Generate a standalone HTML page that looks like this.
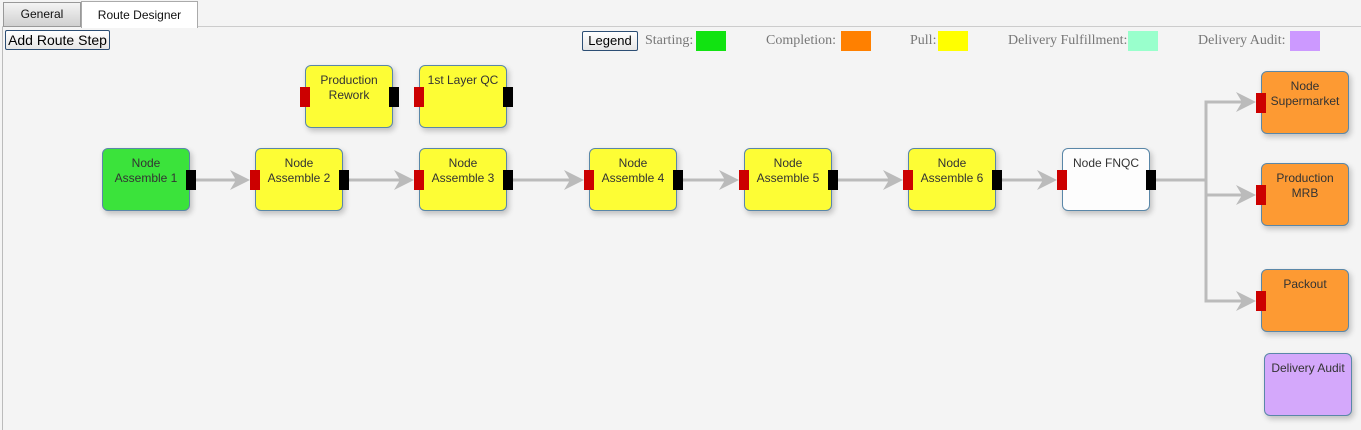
<!DOCTYPE html>
<html><head><style>
body{margin:0;width:1361px;height:430px;background:#f4f4f4;position:relative;overflow:hidden;font-family:"Liberation Sans",Arial,sans-serif}
.n{position:absolute;width:86px;height:61px;border:1px solid #5a87a8;border-radius:6px;box-shadow:2px 3px 6px rgba(0,0,0,.22);font-size:12px;color:#333;text-align:center;line-height:15px;padding-top:7px;box-sizing:content-box;height:54px}
.y{background:#fdfd35}.o{background:#fd9a33}
.r,.b{position:absolute;width:10px;height:20px;top:21px}
.r{background:#cc0000;left:-6px}.b{background:#000;left:83px}
.lg{position:absolute;top:31px;font-family:"Liberation Serif",serif;font-size:14px;color:#777;line-height:20px}
.sw{position:absolute;top:31px;width:30px;height:20px}
</style></head><body>
<div style="position:absolute;left:2px;top:26px;width:1px;height:404px;background:#bbb"></div>
<div style="position:absolute;left:197px;top:26px;width:1164px;height:1px;background:#ccc"></div>
<div style="position:absolute;left:2px;top:26px;width:196px;height:1px;background:#ccc"></div>
<div style="position:absolute;left:3px;top:2px;width:76px;height:23px;border:1px solid #999;background:linear-gradient(#f4f4f4,#d0d0d0);font-size:12px;text-align:center;line-height:23px;color:#111">General</div>
<div style="position:absolute;left:81px;top:1px;width:115px;height:26px;border:1px solid #aaa;border-bottom:none;background:#fff;font-size:12px;text-align:center;line-height:26px;color:#111">Route Designer</div>
<div style="position:absolute;left:5px;top:30px;width:103px;height:18px;border:1px solid #2c4e74;border-radius:2px;background:linear-gradient(#fff,#e6e6e6);font-size:14px;line-height:18px;text-align:center;color:#000">Add Route Step</div>
<div style="position:absolute;left:582px;top:31px;width:54px;height:18px;border:1px solid #2c4e74;border-radius:2px;background:linear-gradient(#fff,#e6e6e6);font-size:13px;line-height:18px;text-align:center;color:#000">Legend</div>
<span class="lg" style="left:645px">Starting:</span><div class="sw" style="left:696px;background:#11e311"></div>
<span class="lg" style="left:766px">Completion:</span><div class="sw" style="left:841px;background:#ff8000"></div>
<span class="lg" style="left:910px">Pull:</span><div class="sw" style="left:938px;background:#ffff00"></div>
<span class="lg" style="left:1008px">Delivery Fulfillment:</span><div class="sw" style="left:1128px;background:#99ffcc"></div>
<span class="lg" style="left:1198px">Delivery Audit:</span><div class="sw" style="left:1290px;background:#cc99ff"></div>

<svg style="position:absolute;left:0;top:0" width="1361" height="430">
<g stroke="#bbb" stroke-width="3" fill="none">
<line x1="196" y1="180" x2="245" y2="180"/>
<line x1="349" y1="180" x2="409" y2="180"/>
<line x1="513" y1="180" x2="579" y2="180"/>
<line x1="683" y1="180" x2="734" y2="180"/>
<line x1="838" y1="180" x2="898" y2="180"/>
<line x1="1002" y1="180" x2="1052" y2="180"/>
<line x1="1156" y1="180" x2="1206" y2="180"/>
<polyline points="1251,102 1206,102 1206,301 1251,301"/>
<line x1="1206" y1="195" x2="1251" y2="195"/>
</g>
<g fill="#bbb">
<path d="M250,180 l-20,-10 l6,10 l-6,10z"/>
<path d="M414,180 l-20,-10 l6,10 l-6,10z"/>
<path d="M584,180 l-20,-10 l6,10 l-6,10z"/>
<path d="M739,180 l-20,-10 l6,10 l-6,10z"/>
<path d="M903,180 l-20,-10 l6,10 l-6,10z"/>
<path d="M1057,180 l-20,-10 l6,10 l-6,10z"/>
<path d="M1256,102 l-20,-10 l6,10 l-6,10z"/>
<path d="M1256,195 l-20,-10 l6,10 l-6,10z"/>
<path d="M1256,301 l-20,-10 l6,10 l-6,10z"/>
</g>
</svg>

<div class="n" style="left:102px;top:148px;background:#3be33b">Node<br>Assemble 1<div class="b"></div></div>
<div class="n y" style="left:255px;top:148px">Node<br>Assemble 2<div class="r"></div><div class="b"></div></div>
<div class="n y" style="left:419px;top:148px">Node<br>Assemble 3<div class="r"></div><div class="b"></div></div>
<div class="n y" style="left:589px;top:148px">Node<br>Assemble 4<div class="r"></div><div class="b"></div></div>
<div class="n y" style="left:744px;top:148px">Node<br>Assemble 5<div class="r"></div><div class="b"></div></div>
<div class="n y" style="left:908px;top:148px">Node<br>Assemble 6<div class="r"></div><div class="b"></div></div>
<div class="n" style="left:1062px;top:148px;background:#fdfdfd">Node FNQC<div class="r"></div><div class="b"></div></div>
<div class="n y" style="left:305px;top:65px">Production<br>Rework<div class="r"></div><div class="b"></div></div>
<div class="n y" style="left:419px;top:65px">1st Layer QC<div class="r"></div><div class="b"></div></div>
<div class="n o" style="left:1261px;top:71px">Node<br>Supermarket<div class="r"></div></div>
<div class="n o" style="left:1261px;top:163px">Production<br>MRB<div class="r"></div></div>
<div class="n o" style="left:1261px;top:269px">Packout<div class="r"></div></div>
<div class="n" style="left:1264px;top:353px;background:#d4a8fb">Delivery Audit</div>
</body></html>
